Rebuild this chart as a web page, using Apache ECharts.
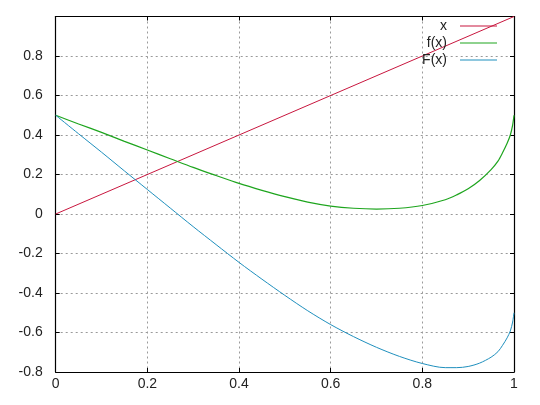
<!DOCTYPE html>
<html>
<head>
<meta charset="utf-8">
<script src="https://cdn.jsdelivr.net/npm/echarts@6/dist/echarts.min.js"></script>
<style>html,body{margin:0;padding:0;background:#fff}#c{width:540px;height:405px}</style>
</head>
<body>
<div id="c"></div>
<script>
var xTicks = [0, 0.2, 0.4, 0.6, 0.8, 1];
var yTicks = [-0.8, -0.6, -0.4, -0.2, 0, 0.2, 0.4, 0.6, 0.8, 1];
var lineX = [0, 1];
var lineY = [0, 1];
var xs = [0, 0.05, 0.10, 0.15, 0.20, 0.25, 0.30, 0.35, 0.40, 0.45, 0.50, 0.55, 0.60, 0.65, 0.70, 0.75, 0.80, 0.85, 0.875, 0.90, 0.925, 0.95, 0.965, 0.975, 0.985, 0.992, 0.997, 1.0];
var fVals = [0.500, 0.456, 0.413, 0.368, 0.324, 0.280, 0.236, 0.195, 0.155, 0.120, 0.088, 0.060, 0.040, 0.029, 0.025, 0.029, 0.043, 0.072, 0.097, 0.128, 0.170, 0.225, 0.268, 0.310, 0.358, 0.400, 0.450, 0.500];
var FVals = [0.500, 0.406, 0.313, 0.218, 0.124, 0.030, -0.064, -0.155, -0.245, -0.330, -0.412, -0.490, -0.560, -0.621, -0.675, -0.721, -0.757, -0.778, -0.778, -0.772, -0.755, -0.725, -0.697, -0.665, -0.627, -0.592, -0.547, -0.500];
var names = ['x', 'f(x)', 'F(x)'];
var colors = ['#c8163e', '#1ea51e', '#1f8fbd'];

function pairs(a, b) { return a.map(function (v, i) { return [v, b[i]]; }); }

var font = 'Liberation Sans, Arial, sans-serif';
var chart = echarts.init(document.getElementById('c'), null, {renderer: 'canvas'});
var gridLine = {show: true, lineStyle: {color: '#9a9a9a', type: [2, 3], width: 1}};
var axisLine = {show: true, onZero: false, lineStyle: {color: '#000', width: 1.2}};
var tick = {show: true, inside: true, length: 4, lineStyle: {color: '#000'}};

function legendFor(i) {
  return {
    data: [names[i]], right: 43, top: 19 + i * 17, orient: 'vertical', align: 'right',
    icon: 'rect', itemWidth: 37, itemHeight: 1.2, padding: 0,
    selectedMode: false,
    textStyle: {fontFamily: font, fontSize: 14, color: '#222', padding: [0, 8, 0, 0]}
  };
}

chart.setOption({
  animation: false,
  color: colors,
  grid: {left: 55.7, right: 26, top: 16.5, bottom: 33, containLabel: false},
  legend: [legendFor(0), legendFor(1), legendFor(2)],
  xAxis: [{
    type: 'value', min: 0, max: 1, interval: 0.2, position: 'bottom',
    axisLine: axisLine, axisTick: tick, splitLine: gridLine,
    axisLabel: {fontFamily: font, fontSize: 14, color: '#222', margin: 5,
      formatter: function (v) { return String(Math.round(v * 10) / 10); }}
  }, {
    type: 'value', min: 0, max: 1, interval: 0.2, position: 'top',
    axisLine: axisLine, axisTick: tick, splitLine: {show: false}, axisLabel: {show: false}
  }],
  yAxis: [{
    type: 'value', min: -0.8, max: 1, interval: 0.2, position: 'left',
    axisLine: axisLine, axisTick: tick, splitLine: gridLine,
    axisLabel: {fontFamily: font, fontSize: 14, color: '#222', margin: 13, showMaxLabel: false,
      formatter: function (v) { return String(Math.round(v * 10) / 10); }}
  }, {
    type: 'value', min: -0.8, max: 1, interval: 0.2, position: 'right',
    axisLine: axisLine, axisTick: tick, splitLine: {show: false}, axisLabel: {show: false}
  }],
  series: [
    {name: names[0], type: 'line', data: pairs(lineX, lineY), showSymbol: false, symbol: 'none',
      lineStyle: {width: 1, color: colors[0]}, itemStyle: {color: colors[0]}},
    {name: names[1], type: 'line', data: pairs(xs, fVals), showSymbol: false, symbol: 'none', smooth: 0.3,
      lineStyle: {width: 1.2, color: colors[1]}, itemStyle: {color: colors[1]}},
    {name: names[2], type: 'line', data: pairs(xs, FVals), showSymbol: false, symbol: 'none', smooth: 0.3,
      lineStyle: {width: 1, color: colors[2]}, itemStyle: {color: colors[2]}}
  ]
});
</script>
</body>
</html>
